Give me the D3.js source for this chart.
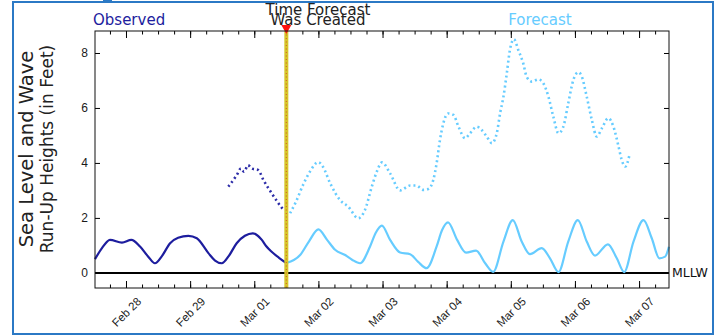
<!DOCTYPE html>
<html>
<head>
<meta charset="utf-8">
<script src="https://cdn.jsdelivr.net/npm/d3@7"></script>
<style>
  body { margin: 0; background: #fff; }
  svg { display: block; font-family: "DejaVu Sans", sans-serif; }
</style>
</head>
<body>
<svg id="chart"></svg>
<script>
// observed water level (solid) and run-up (dotted), feet above MLLW
const obsTimes = ["02-27 12:24","02-27 15:00","02-27 18:00","02-27 22:30","02-28 02:00","02-28 05:15",
  "02-28 08:15","02-28 10:50","02-28 13:30","02-28 16:30","02-28 19:30","02-28 23:20","02-29 02:30",
  "02-29 06:50","02-29 09:20","02-29 11:50","02-29 14:30","02-29 17:25","02-29 20:30","02-29 23:25",
  "03-01 02:50","03-01 04:25","03-01 06:30","03-01 09:15","03-01 12:00"];
const obsLevel = [0.50,0.90,1.20,1.10,1.20,0.96,0.60,0.35,0.62,1.08,1.28,1.35,1.26,
  0.72,0.45,0.35,0.62,1.08,1.35,1.44,1.20,0.98,0.77,0.55,0.36];

const obsRunupTimes = ["02-29 14:18","02-29 17:25","02-29 19:00","02-29 20:10","02-29 21:40","02-29 23:00",
  "03-01 01:30","03-01 03:25","03-01 06:30","03-01 08:55","03-01 10:55"];
const obsRunup = [3.14,3.55,3.80,3.68,3.92,3.80,3.74,3.38,2.90,2.55,2.29];

// forecast water level (solid) and run-up (dotted)
const fcTimes = ["03-01 12:00","03-01 17:10","03-01 20:30","03-02 00:00","03-02 03:15","03-02 06:15",
  "03-02 10:00","03-02 12:35","03-02 15:35","03-02 19:20","03-02 21:25","03-02 23:45","03-03 02:50",
  "03-03 06:35","03-03 10:20","03-03 13:20","03-03 16:30","03-03 20:15","03-03 22:15","03-04 00:30",
  "03-04 03:55","03-04 07:15","03-04 11:00","03-04 14:25","03-04 17:25","03-04 21:15","03-05 00:45",
  "03-05 04:05","03-05 07:10","03-05 11:35","03-05 14:40","03-05 17:50","03-05 21:30","03-06 01:05",
  "03-06 04:25","03-06 07:30","03-06 12:20","03-06 15:40","03-06 18:25","03-06 21:55","03-07 01:40",
  "03-07 04:45","03-07 07:35","03-07 09:45","03-07 11:10"];
const fcLevel = [0.36,0.65,1.15,1.58,1.20,0.84,0.65,0.48,0.35,0.96,1.45,1.72,1.20,
  0.74,0.68,0.40,0.17,0.96,1.55,1.84,1.20,0.74,0.81,0.35,0.04,1.14,1.92,
  1.14,0.68,0.90,0.53,0.03,1.14,1.92,1.14,0.63,1.04,0.53,0.03,1.14,1.92,
  1.26,0.53,0.59,0.95];

const fcRunupTimes = ["03-01 13:25","03-01 15:40","03-01 18:15","03-01 20:55","03-02 00:00","03-02 01:45",
  "03-02 04:25","03-02 08:05","03-02 11:10","03-02 14:55","03-02 17:25","03-02 20:00","03-02 21:55",
  "03-02 23:50","03-03 02:50","03-03 06:35","03-03 10:20","03-03 12:35","03-03 15:20","03-03 17:05",
  "03-03 19:00","03-03 20:15","03-03 21:30","03-03 22:45","03-04 00:35","03-04 02:30","03-04 04:25",
  "03-04 06:55","03-04 08:45","03-04 11:15","03-04 13:05","03-04 15:00","03-04 16:55","03-04 18:45",
  "03-04 20:00","03-04 21:15","03-04 22:30","03-04 23:40","03-05 01:10","03-05 02:50","03-05 04:40",
  "03-05 05:55","03-05 07:50","03-05 10:20","03-05 12:10","03-05 14:05","03-05 15:55","03-05 17:50",
  "03-05 19:40","03-05 21:30","03-05 23:25","03-06 01:20","03-06 02:35","03-06 04:25","03-06 06:20",
  "03-06 08:10","03-06 10:05","03-06 12:30","03-06 14:25","03-06 16:20","03-06 17:30","03-06 18:50",
  "03-06 20:25"];
const fcRunup = [2.17,2.60,3.20,3.70,4.03,3.85,3.26,2.65,2.41,1.99,2.29,3.14,3.70,
  4.02,3.62,3.00,3.18,3.18,3.02,3.05,3.38,3.99,4.84,5.44,5.80,5.75,5.32,
  4.90,5.08,5.32,5.20,4.96,4.72,5.08,5.81,6.41,7.26,8.11,8.50,8.10,7.62,
  7.14,6.96,7.04,6.90,6.41,5.68,5.08,5.32,6.17,7.02,7.30,7.14,6.41,5.56,
  4.96,5.26,5.63,5.32,4.59,4.11,3.87,4.29];

const forecastMade = "03-01 12:00";
const xRange = ["02-27 12:24", "03-07 11:12"];
const yTicks = [0, 2, 4, 6, 8];

const parse = d3.timeParse("%Y-%m-%d %H:%M");
const toDate = s => parse("2024-" + s);
const pairs = (ts, vs) => ts.map((t, i) => ({ t: toDate(t), v: vs[i] }));

class SurgeChart {

  constructor(config) {
    this.config = {
      parent: config.parent,
      width: config.width || 722,
      height: config.height || 335,
      margin: config.margin || { top: 31, right: 53, bottom: 47, left: 95 }
    };
    this.init();
  }

  init() {
    let self = this;
    const m = self.config.margin;

    self.svg = d3.select(self.config.parent)
      .attr('width', self.config.width)
      .attr('height', self.config.height);

    self.inner_width = self.config.width - m.left - m.right;
    self.inner_height = self.config.height - m.top - m.bottom;

    self.chart = self.svg.append('g')
      .attr('transform', `translate(${m.left}, ${m.top})`);

    self.xscale = d3.scaleTime()
      .domain(xRange.map(toDate))
      .range([0, self.inner_width]);

    self.yscale = d3.scaleLinear()
      .domain([-0.55, 8.8])
      .range([self.inner_height, 0]);
  }

  render() {
    let self = this;
    const W = self.inner_width, H = self.inner_height;
    const x = self.xscale, y = self.yscale;

    // outer blue frame
    self.svg.append('rect')
      .attr('x', 13).attr('y', 2)
      .attr('width', 700).attr('height', 332)
      .attr('fill', 'none')
      .attr('stroke', '#2b79c5')
      .attr('stroke-width', 2);
    self.svg.append('rect')
      .attr('x', 103).attr('y', 0).attr('width', 9).attr('height', 3)
      .attr('fill', '#2b79c5');

    const days = d3.timeDay.range(x.domain()[0], x.domain()[1]);
    const quarters = d3.timeHour.every(6).range(x.domain()[0], x.domain()[1]);

    // minor ticks bottom / top
    self.chart.append('g')
      .attr('transform', `translate(0, ${H})`)
      .call(d3.axisBottom(x).tickValues(quarters).tickSize(-3.5).tickFormat(''))
      .call(g => g.select('.domain').remove());
    self.chart.append('g')
      .call(d3.axisTop(x).tickValues(quarters).tickSize(-3.5).tickFormat(''))
      .call(g => g.select('.domain').remove());

    // major ticks
    const xb = self.chart.append('g')
      .attr('transform', `translate(0, ${H})`)
      .call(d3.axisBottom(x).tickValues(days).tickSize(-7).tickFormat(d3.timeFormat('%b %d')));
    xb.select('.domain').remove();
    xb.selectAll('text')
      .attr('y', 0).attr('dy', null)
      .attr('transform', 'translate(0, 24) rotate(-45)')
      .attr('text-anchor', 'middle')
      .attr('dominant-baseline', 'central')
      .style('font-size', '11.5px')
      .attr('fill', '#1a1a1a');
    self.chart.append('g')
      .call(d3.axisTop(x).tickValues(days).tickSize(-7).tickFormat(''))
      .call(g => g.select('.domain').remove());

    const yl = self.chart.append('g')
      .call(d3.axisLeft(y).tickValues(yTicks).tickSize(-5).tickPadding(7).tickFormat(d3.format('d')));
    yl.select('.domain').remove();
    yl.selectAll('text').style('font-size', '12px').attr('fill', '#1a1a1a');
    self.chart.append('g')
      .attr('transform', `translate(${W}, 0)`)
      .call(d3.axisRight(y).tickValues(yTicks).tickSize(-5).tickFormat(''))
      .call(g => g.select('.domain').remove());

    // MLLW reference
    self.chart.append('line')
      .attr('x1', 0).attr('x2', W)
      .attr('y1', y(0)).attr('y2', y(0))
      .attr('stroke', '#000').attr('stroke-width', 2);
    self.chart.append('text')
      .attr('x', W + 3).attr('y', y(0))
      .attr('dominant-baseline', 'central')
      .style('font-size', '12.5px')
      .attr('fill', '#111')
      .text('MLLW');

    const line = d3.line()
      .x(d => x(d.t))
      .y(d => y(d.v))
      .curve(d3.curveMonotoneX);

    const series = [
      { data: pairs(obsTimes, obsLevel), color: '#1d1d9e', dash: null },
      { data: pairs(obsRunupTimes, obsRunup), color: '#2c2ca8', dash: '2,3' },
      { data: pairs(fcTimes, fcLevel), color: '#66ccff', dash: null },
      { data: pairs(fcRunupTimes, fcRunup), color: '#66ccff', dash: '2,3' }
    ];

    self.chart.selectAll('path.series')
      .data(series)
      .join('path')
      .attr('class', 'series')
      .attr('d', d => line(d.data))
      .attr('fill', 'none')
      .attr('stroke', d => d.color)
      .attr('stroke-width', d => d.dash ? 2.6 : 2.2)
      .attr('stroke-dasharray', d => d.dash);

    // time forecast was created
    const fx = x(toDate(forecastMade));
    self.chart.append('line')
      .attr('x1', fx).attr('x2', fx).attr('y1', 0).attr('y2', H)
      .attr('stroke', '#d6c62a').attr('stroke-width', 4);
    self.chart.append('line')
      .attr('x1', fx).attr('x2', fx).attr('y1', 0).attr('y2', H)
      .attr('stroke', '#d8382a').attr('stroke-width', 0.8)
      .attr('stroke-dasharray', '1,2.5');
    self.chart.append('path')
      .attr('d', `M${fx - 5},-6 L${fx + 5},-6 L${fx},3 Z`)
      .attr('fill', '#ff1010');

    // frame
    self.chart.append('rect')
      .attr('width', W).attr('height', H)
      .attr('fill', 'none')
      .attr('stroke', '#111').attr('stroke-width', 1);

    // titles
    self.svg.append('text')
      .attr('x', 93).attr('y', 25)
      .style('font-size', '15px')
      .attr('fill', '#1d1d9e')
      .text('Observed');
    self.svg.append('text')
      .attr('x', 540).attr('y', 25)
      .attr('text-anchor', 'middle')
      .style('font-size', '15px')
      .attr('fill', '#66ccff')
      .text('Forecast');
    self.svg.append('text')
      .attr('x', 318).attr('y', 15)
      .attr('text-anchor', 'middle')
      .style('font-size', '15px')
      .attr('fill', '#222')
      .text('Time Forecast');
    self.svg.append('text')
      .attr('x', 318).attr('y', 25)
      .attr('text-anchor', 'middle')
      .style('font-size', '15px')
      .attr('fill', '#222')
      .text('Was Created');

    // y label, two lines
    const ylab = self.svg.append('text')
      .attr('transform', 'translate(0, 149) rotate(-90)')
      .attr('text-anchor', 'middle')
      .attr('fill', '#222');
    ylab.append('tspan').attr('x', 0).attr('y', 33)
      .style('font-size', '19.5px')
      .text('Sea Level and Wave');
    ylab.append('tspan').attr('x', 0).attr('y', 53)
      .style('font-size', '17px')
      .text('Run-Up Heights (in Feet)');
  }
}

let chart = new SurgeChart({ parent: '#chart', width: 722, height: 335 });
chart.render();
</script>
</body>
</html>
